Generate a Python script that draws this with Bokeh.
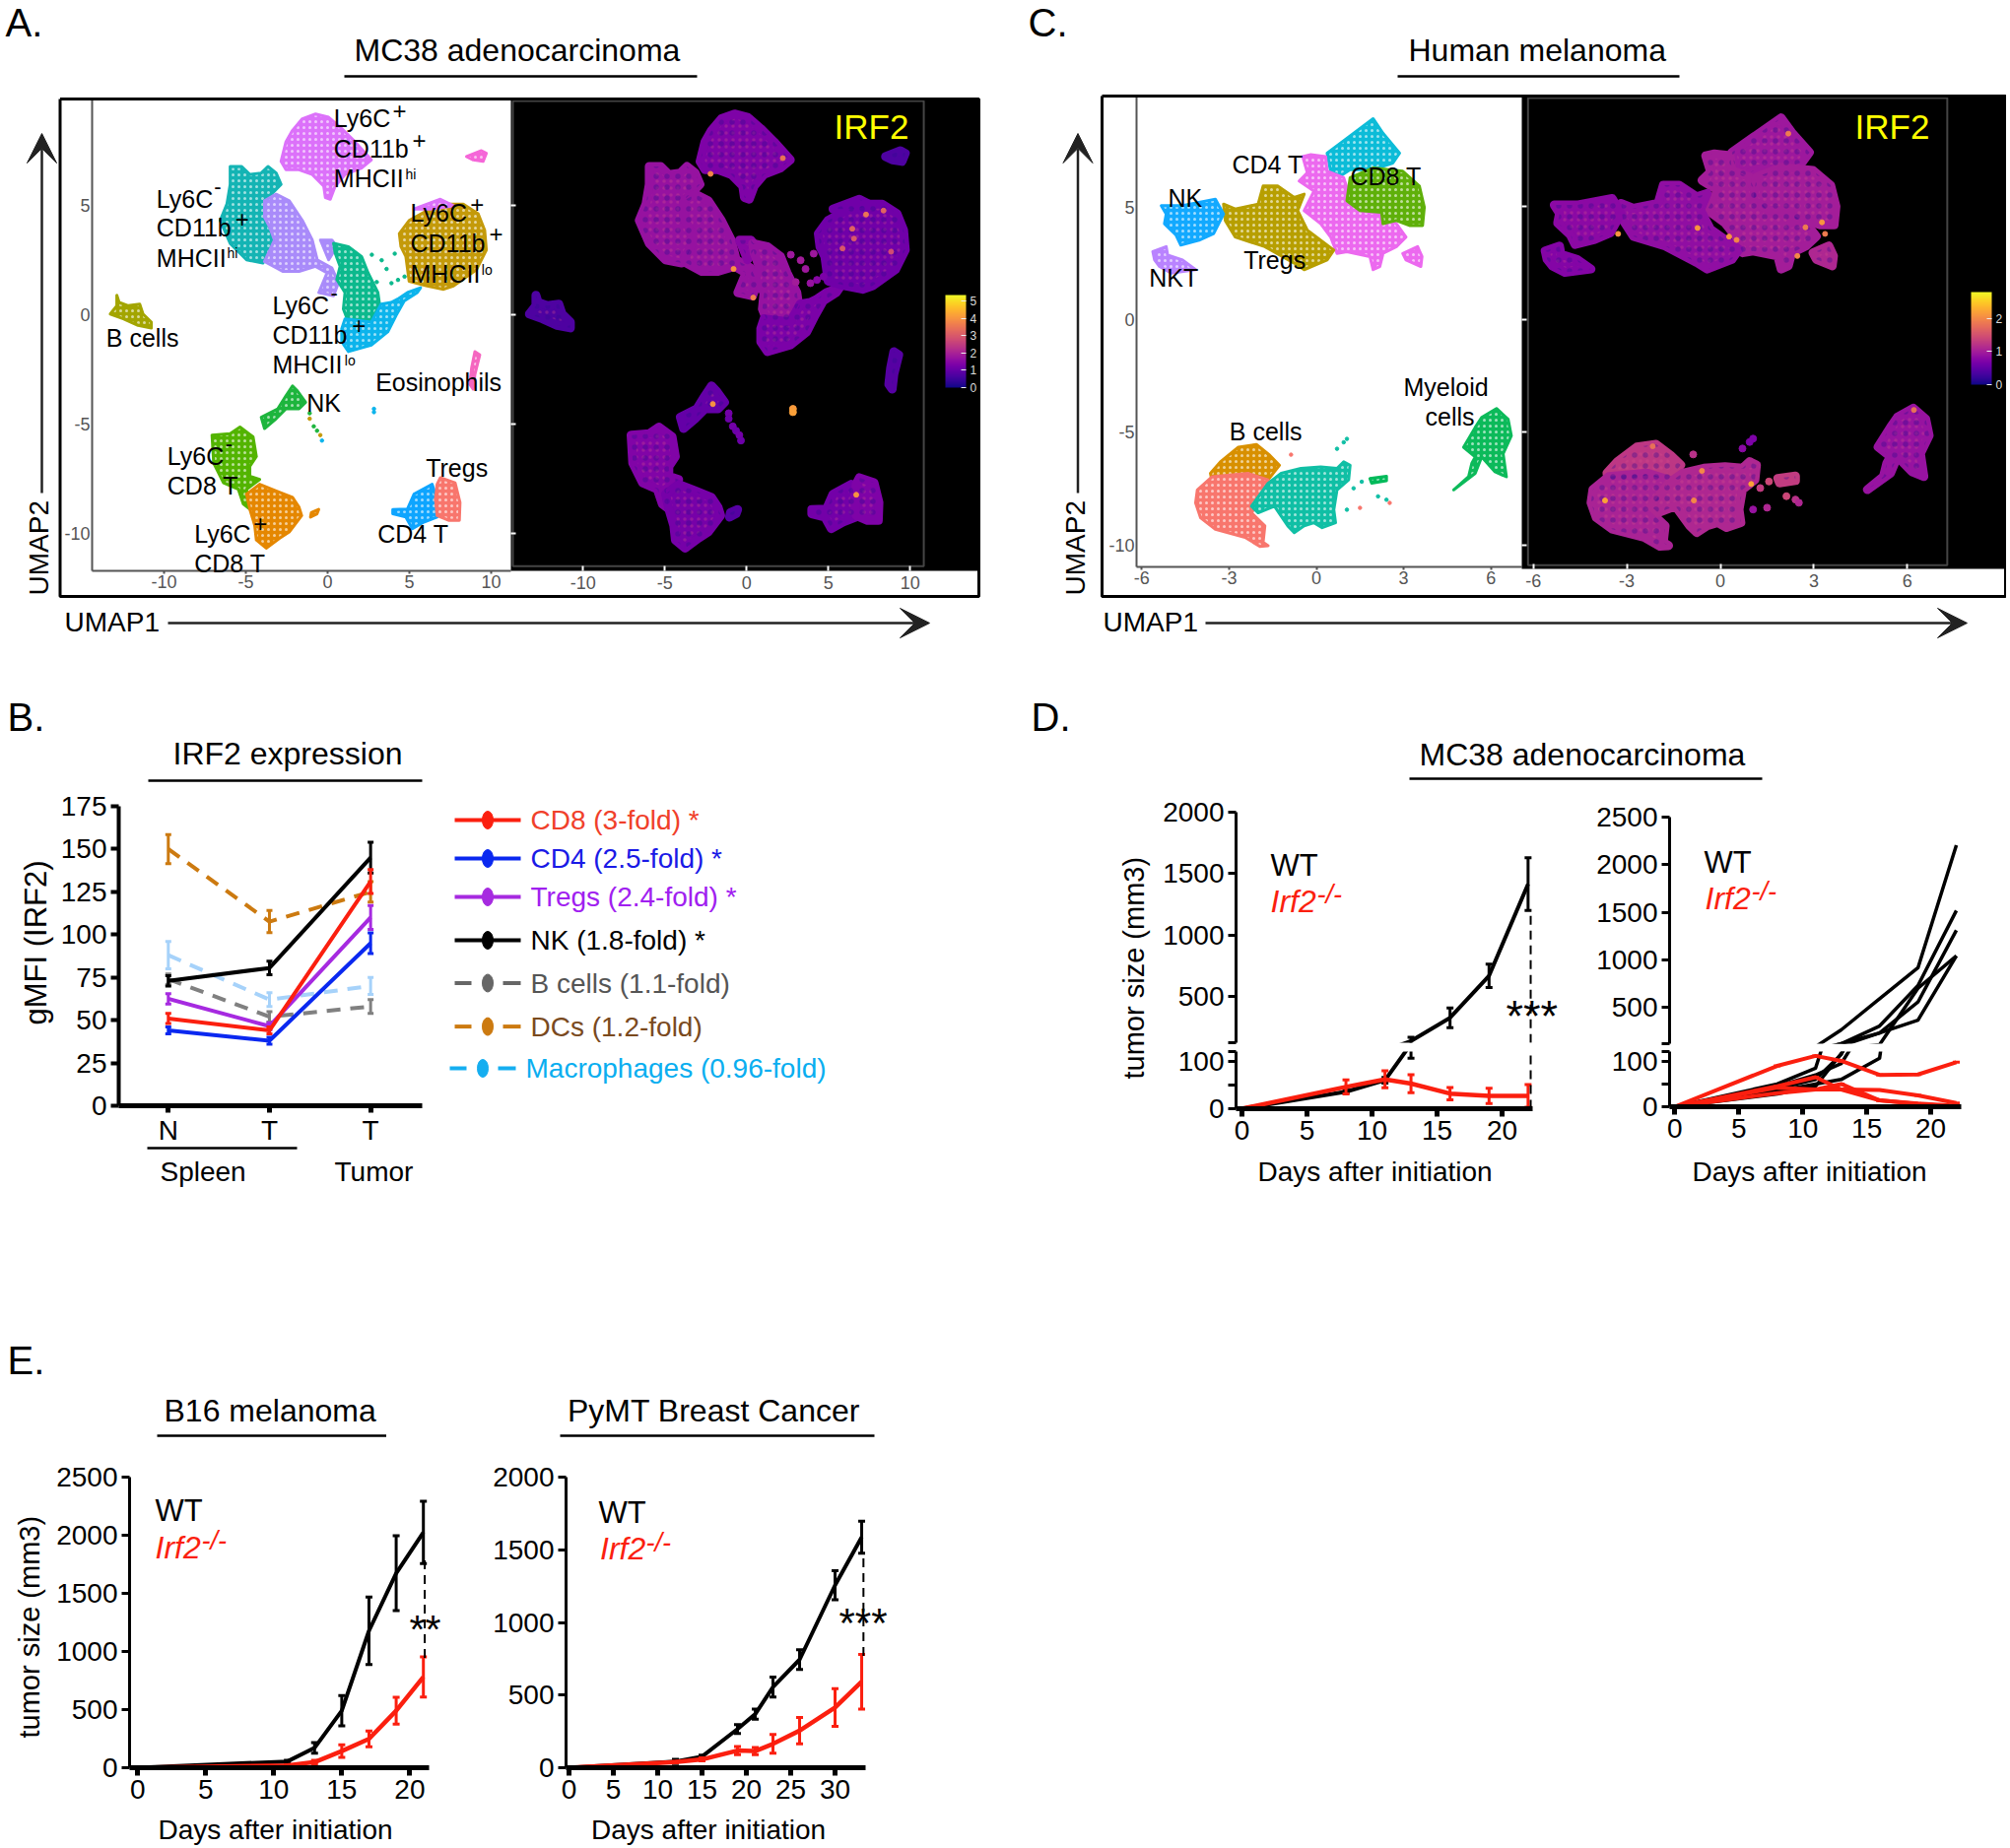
from math import pi
from bokeh.embed import file_html
from bokeh.resources import INLINE
from bokeh.layouts import column
from bokeh.plotting import figure
from bokeh.models import (Range1d, FixedTicker, Label, ColorBar, LinearColorMapper, BoxAnnotation,
                          ColumnDataSource, Arrow, VeeHead)
from bokeh.palettes import Plasma256
from bokeh.transform import linear_cmap

FONT = "Liberation Sans"

# ---------------- panel A clusters, UMAP units (outlines)
A_VIOLET_X = [-2.55,-2.15,-1.55,-0.74,0.06,0.86,1.67,2.67,2.07,1.06,0.46,0.16,-0.14,-0.24,-0.94,-1.75,-2.55,-2.85]
A_VIOLET_Y = [7.92,8.44,8.97,9.19,9.04,8.52,7.92,7.09,6.72,6.42,5.89,5.29,5.37,5.89,6.42,6.64,6.64,7.02]
A_TEAL_X = [-5.96,-5.26,-4.76,-4.06,-3.65,-3.15,-2.85,-3.25,-3.86,-3.86,-3.55,-3.25,-3.65,-3.96,-4.96,-5.96,-6.57,-6.16,-5.96]
A_TEAL_Y = [6.79,6.79,6.42,6.49,6.79,6.49,5.97,5.67,5.22,4.47,4.02,3.42,2.67,2.37,2.52,3.27,4.32,5.07,5.97]
A_LAV_X = [-3.86,-3.15,-2.35,-1.55,-0.94,-0.64,0.26,0.66,0.36,-0.54,-0.04,-0.74,-1.75,-2.75,-3.86,-3.25,-3.55,-3.86]
A_LAV_Y = [5.22,5.52,5.22,4.32,3.42,2.52,2.14,1.47,0.87,1.02,1.92,2.22,1.99,1.99,2.44,3.42,4.02,4.47]
A_LAV2_X = [-0.44,0.26,0.56,0.06]
A_LAV2_Y = [3.42,3.42,3.12,2.52]
A_GREEN_X = [0.36,1.27,2.07,2.47,3.07,3.17,2.67,1.27,0.96,1.06,0.56,0.76,0.46]
A_GREEN_Y = [3.27,3.12,2.67,1.92,1.02,0.49,-0.33,-0.33,0.27,1.02,1.62,2.22,2.82]
A_SKY_X = [1.06,2.67,3.27,3.88,4.28,4.88,5.68,5.48,4.68,4.18,3.67,2.67,1.27,0.86,0.86]
A_SKY_Y = [-0.18,-0.33,0.49,0.57,0.72,1.02,1.24,1.02,0.64,-0.03,-0.78,-1.38,-1.68,-1.23,-0.63]
A_GOLD_X = [4.38,4.98,5.88,7.09,8.29,9.2,9.6,9.7,9.1,7.69,7.09,6.08,4.98,4.78,4.48]
A_GOLD_Y = [3.72,4.32,4.69,5.07,5.07,4.62,3.87,2.97,2.07,1.32,1.17,1.32,1.54,2.67,3.12]
A_VTOP_X = [5.28,6.89,7.69,6.29]
A_VTOP_Y = [4.84,5.29,4.99,4.84]
A_PINK_X = [8.49,9.4,9.7,9.5,8.9]
A_PINK_Y = [7.24,7.51,7.39,7.02,7.09]
A_BCELL_X = [-12.89,-12.75,-12.19,-11.49,-11.29,-10.78,-10.78,-11.59,-12.49,-13.29,-12.89]
A_BCELL_Y = [0.9,0.57,0.42,0.49,0.04,-0.33,-0.6,-0.48,-0.18,0.04,0.42]
A_EOS_X = [9.0,9.3,9.0,8.9,8.69,8.8]
A_EOS_Y = [-1.68,-1.83,-2.73,-3.4,-3.18,-2.43]
A_NK_X = [-2.15,-1.85,-1.35,-1.75,-2.55,-3.15,-3.86,-4.06,-3.05,-2.55]
A_NK_Y = [-3.25,-3.48,-4.0,-4.3,-4.3,-4.75,-5.2,-4.68,-4.3,-3.7]
A_CD8N_X = [-7.07,-5.96,-5.36,-4.56,-4.36,-4.76,-4.76,-4.16,-4.96,-4.76,-5.16,-5.46,-6.37,-6.97]
A_CD8N_Y = [-5.5,-5.43,-5.13,-5.58,-6.48,-6.93,-7.38,-7.53,-7.98,-8.88,-8.65,-7.98,-7.68,-6.78]
A_CD8P_X = [-4.96,-4.16,-3.15,-2.15,-1.75,-1.59,-2.35,-2.95,-3.76,-4.36,-4.46,-4.76]
A_CD8P_Y = [-8.2,-7.75,-8.05,-8.35,-8.8,-9.18,-9.93,-10.22,-10.67,-10.3,-9.63,-8.88]
A_CD4_X = [3.98,4.88,5.28,6.39,6.69,6.69,5.88,5.18,4.78,3.98]
A_CD4_Y = [-8.91,-8.88,-8.2,-7.75,-8.43,-9.25,-9.48,-9.78,-9.25,-9.1]
A_TREG_X = [6.69,6.89,7.79,8.09,8.05,7.39,6.69,6.59]
A_TREG_Y = [-7.75,-7.45,-7.68,-8.58,-9.4,-9.4,-9.18,-8.43]
A_ORSM_X = [-1.0,-0.55,-0.65,-1.05]
A_ORSM_Y = [-9.05,-8.9,-9.1,-9.25]

A_OUTLINES = [(A_VIOLET_X,A_VIOLET_Y,"#dc71fa",1.35),(A_TEAL_X,A_TEAL_Y,"#14b4b4",1.7),(A_LAV_X,A_LAV_Y,"#a98bfa",1.7),
              (A_LAV2_X,A_LAV2_Y,"#a98bfa",1.5),(A_GREEN_X,A_GREEN_Y,"#0cb98d",1.7),(A_SKY_X,A_SKY_Y,"#0cb4ec",1.3),
              (A_GOLD_X,A_GOLD_Y,"#c49a0a",1.15),(A_VTOP_X,A_VTOP_Y,"#dc71fa",1.15),(A_PINK_X,A_PINK_Y,"#f566d8",0.7),
              (A_BCELL_X,A_BCELL_Y,"#a3a500",0.7),(A_EOS_X,A_EOS_Y,"#f566c0",0.8),(A_NK_X,A_NK_Y,"#1db53d",1.0),
              (A_CD8N_X,A_CD8N_Y,"#53b400",1.4),(A_CD8P_X,A_CD8P_Y,"#e58700",1.25),(A_CD4_X,A_CD4_Y,"#0ea5ff",1.2),
              (A_TREG_X,A_TREG_Y,"#f8766d",1.35),(A_ORSM_X,A_ORSM_Y,"#e58700",0.8)]
A_DOT_X = [2.7,3.3,3.6,3.9,4.3,4.7,4.1,3.0,-1.1,-1.1,-0.85,-0.65,-0.45,-0.35,2.83,2.83]
A_DOT_Y = [2.75,2.5,2.1,1.45,1.6,1.75,2.8,1.5,-4.5,-4.75,-5.1,-5.3,-5.5,-5.75,-4.3,-4.45]
A_DOT_C = ["#0cb98d"]*8+["#1db53d","#c49a0a","#1db53d","#1db53d","#c49a0a","#0cb4ec","#0cb4ec","#0cb4ec"]
A_DOT_V = [1.8,1.9,1.8,1.7,1.5,1.3,1.8,1.9,1.2,1.1,1.2,1.1,1.2,1.1,4.1,4.2]
A_HOT_X = [-2.21,2.21,-0.8,0.4,7.3,8.37,6.46,6.56,5.86,8.83,6.7,-2.07]
A_HOT_Y = [6.45,7.17,2.1,0.79,4.59,4.77,3.94,3.49,3.04,2.89,-8.23,-4.08]
A_HOT_V = [3.8,3.5,4.0,3.7,3.5,3.2,3.2,3.0,3.0,2.8,4.0,4.0]

# ---------------- panel C clusters
C_CYAN_X = [0.37,1.05,1.95,2.29,2.86,2.63,1.95,1.16,0.82,0.49]
C_CYAN_Y = [7.39,8.05,8.92,8.27,7.39,6.95,6.66,6.66,6.37,6.59]
C_GREEN_X = [1.16,1.95,2.97,3.54,3.71,3.65,3.2,2.75,2.29,2.24,1.5,1.05]
C_GREEN_Y = [6.3,6.73,6.59,5.93,4.99,4.18,4.18,4.4,4.26,4.77,4.84,5.28]
C_PINK_X = [-0.47,-0.19,0.32,0.37,0.94,1.16,1.5,2.24,2.75,3.08,2.75,2.29,2.18,1.95,1.84,1.05,0.71,0.49,0.15,-0.42,-0.08,-0.59,-0.31]
C_PINK_Y = [7.24,7.32,7.24,6.59,6.3,5.42,4.84,4.69,4.26,3.67,3.24,2.94,2.36,2.22,2.8,3.02,2.94,3.67,4.26,4.84,5.71,6.15,6.52]
C_PINK2_X = [2.97,3.48,3.63,3.59,3.08]
C_PINK2_Y = [2.94,3.24,2.8,2.36,2.65]
C_TREG_X = [-3.19,-2.79,-2.0,-1.83,-1.32,-0.76,-0.42,-0.64,-0.31,0.6,0.37,-0.42,-0.76,-1.77,-2.79,-3.13]
C_TREG_Y = [5.13,4.91,5.13,5.93,5.93,5.42,5.57,4.84,3.97,3.09,2.65,2.22,2.51,3.24,3.67,4.4]
C_NK_X = [-5.33,-4.6,-3.47,-3.19,-3.53,-4.03,-4.66,-4.82,-5.22,-5.16]
C_NK_Y = [5.06,5.06,5.35,4.69,3.82,3.53,3.31,3.75,4.26,4.69]
C_NKT_X = [-5.62,-5.16,-5.11,-4.6,-4.15,-4.99,-5.39,-5.56]
C_NKT_Y = [3.02,3.24,2.87,2.65,2.22,2.07,2.36,2.65]
C_BGOLD_X = [-3.64,-3.3,-2.68,-2.06,-1.6,-1.27,-1.66,-2.34,-3.02,-3.58]
C_BGOLD_Y = [-6.82,-6.31,-5.66,-5.54,-6.02,-6.46,-7.11,-6.9,-7.11,-7.19]
C_BSAL_X = [-4.09,-3.58,-2.34,-1.66,-1.94,-2.23,-1.77,-1.83,-1.66,-1.94,-2.45,-3.47,-3.98,-4.15]
C_BSAL_Y = [-7.55,-6.97,-6.82,-7.11,-7.99,-8.57,-9.15,-9.88,-10.03,-10.06,-9.66,-9.3,-8.79,-8.13]
C_TEAL_X = [-1.66,-1.21,-0.53,0.15,0.71,0.94,1.16,1.11,0.71,0.6,0.66,0.2,-0.08,-0.42,-0.76,-0.98,-1.44,-2.0,-2.23]
C_TEAL_Y = [-7.26,-6.82,-6.6,-6.53,-6.6,-6.31,-6.46,-7.11,-7.55,-8.43,-9.01,-9.23,-9.01,-9.15,-9.45,-9.15,-8.28,-8.57,-8.28]
C_GSM_X = [1.84,2.41,2.41,1.9]
C_GSM_Y = [-7.05,-6.95,-7.15,-7.25]
C_MYE_X = [6.19,6.59,6.7,6.42,6.53,6.14,5.68,5.46,4.72,5.23,5.34,5.46,5.06,5.46,5.68]
C_MYE_Y = [-3.94,-4.42,-5.15,-5.95,-6.97,-6.75,-6.09,-6.82,-7.55,-6.97,-6.38,-6.09,-5.66,-4.78,-4.34]
C_OUTLINES = [(C_CYAN_X,C_CYAN_Y,"#0cbcd8",0.95),(C_PINK_X,C_PINK_Y,"#ec69ef",1.0),(C_PINK2_X,C_PINK2_Y,"#ec69ef",1.1),
              (C_GREEN_X,C_GREEN_Y,"#5fb00a",1.0),(C_TREG_X,C_TREG_Y,"#b79f00",0.85),(C_NK_X,C_NK_Y,"#12a9ff",0.8),
              (C_NKT_X,C_NKT_Y,"#b983ff",0.75),(C_BGOLD_X,C_BGOLD_Y,"#d89000",1.25),(C_BSAL_X,C_BSAL_Y,"#f8766d",1.05),
              (C_TEAL_X,C_TEAL_Y,"#10bfa5",1.1),(C_GSM_X,C_GSM_Y,"#00ba5a",1.3),(C_MYE_X,C_MYE_Y,"#0cba5a",0.9)]
C_DOT_X = [1.05,0.94,0.71,1.28,1.56,2.12,2.41,1.05,-0.87,1.5,2.52]
C_DOT_Y = [-5.29,-5.44,-5.73,-7.48,-7.19,-7.84,-7.99,-8.43,-5.99,-8.35,-8.13]
C_DOT_C = ["#10bfa5"]*8+["#f8766d"]*3
C_DOT_V = [0.7,0.7,0.8,1.3,1.4,1.4,1.2,0.9,1.2,1.1,1.1]
C_HOT_X = [-3.28,-0.73,0.28,0.52,3.26,2.73,2.47,3.36,2.18,-3.7,-0.59,0.99,-0.85,-2.17,6.21]
C_HOT_Y = [3.78,4.04,3.66,3.51,4.29,4.07,2.8,3.78,8.22,-8.03,-6.72,-7.3,-8.03,-5.63,-4.02]
C_HOT_V = [2.1,2.1,2.1,2.0,2.1,1.9,2.0,1.9,1.9,2.2,2.0,2.2,2.0,1.8,1.8]

# ---------------- panel B
B_POS = [0, 1, 2]
B_TICKS = ["N", "T", "T"]
CD8_MEAN, CD8_ERR = [51, 44, 131], [3, 2, 7]
CD4_MEAN, CD4_ERR = [44, 38, 95], [2, 2, 6]
TREG_MEAN, TREG_ERR = [62.5, 46.5, 110], [3, 2, 7]
NK_MEAN, NK_ERR = [73, 80.5, 145], [3, 4, 9]
BC_MEAN, BC_ERR = [74, 52, 58], [3, 3, 4]
DC_MEAN, DC_ERR = [150, 107.6, 125], [8.5, 6.5, 6]
MAC_MEAN, MAC_ERR = [88, 62, 70], [8, 4, 5]

# ---------------- panel D
D_DAYS = [0, 8, 11, 13, 16, 19, 22]
D_WT = [0, 36, 60, 137, 326, 668, 1415]
D_WT_ERR = [0, 3, 6, 30, 80, 95, 215]
D_KO = [0, 46, 62, 53, 32, 27, 27]
D_KO_ERR = [0, 15, 18, 19, 13, 16, 24]
M1 = [0, 50, 85, 262, 590, 915, 2205]
M2 = [0, 40, 60, 115, 303, 728, 1517]
M3 = [0, 45, 70, 95, 230, 555, 1310]
M4 = [0, 35, 50, 60, 107, 700, 1040]
M5 = [0, 28, 45, 117, 230, 365, 1040]
R1 = [0, 90, 112, 101, 70, 71, 98]
R2 = [0, 45, 65, 38, 14, 7, 2]
R3 = [0, 42, 38, 38, 37, 25, 8]
R4 = [0, 30, 38, 50, 14, 6, 0]

# ---------------- panel E
E1_WT_DAYS = [0, 11, 13, 15, 17, 19, 21]
E1_WT = [0, 54, 171, 490, 1178, 1673, 2024]
E1_WT_ERR = [0, 10, 45, 130, 290, 322, 268]
E1_KO_DAYS = [0, 11, 13, 15, 17, 19, 21]
E1_KO = [0, 20, 48, 143, 248, 490, 781]
E1_KO_ERR = [0, 5, 15, 55, 68, 115, 172]
E2_WT_DAYS = [0, 12, 15, 19, 21, 23, 26, 30, 33]
E2_WT = [0, 43, 77, 266, 369, 555, 744, 1256, 1586]
E2_WT_ERR = [0, 15, 10, 30, 35, 68, 68, 100, 110]
E2_KO_DAYS = [0, 12, 15, 19, 21, 23, 26, 30, 33]
E2_KO = [0, 39, 57, 118, 114, 164, 255, 414, 592]
E2_KO_ERR = [0, 5, 10, 28, 25, 64, 90, 130, 188]

LEGEND_TEXT = ["CD8 (3-fold) *", "CD4 (2.5-fold) *", "Tregs  (2.4-fold) *", "NK (1.8-fold) *",
               "B cells (1.1-fold)", "DCs (1.2-fold)", "Macrophages (0.96-fold)"]

figs = []

def make(L, T, R, B, xr, yr, left=100, bottom=50, top=5, right=5):
    p = figure(frame_width=round(R-L), frame_height=round(B-T), x_range=Range1d(*xr), y_range=Range1d(*yr),
               min_border_left=left, min_border_right=right, min_border_top=top, min_border_bottom=bottom,
               toolbar_location=None, output_backend="svg", background_fill_color=None, border_fill_color=None,
               outline_line_color=None)
    p.grid.visible = False
    p.styles = {"position": "absolute", "left": f"{round(L)-left}px", "top": f"{round(T)-top}px"}
    figs.append(p)
    return p

def style_axis(ax, ticks, size="28px", color="black", lw=3, tick=8, overrides=None, standoff=4):
    ax.ticker = FixedTicker(ticks=ticks)
    ax.axis_line_width = lw
    ax.axis_line_color = color
    ax.major_tick_line_width = lw
    ax.major_tick_line_color = color
    ax.major_tick_in = 0
    ax.major_tick_out = tick
    ax.minor_tick_line_color = None
    ax.major_label_text_font = FONT
    ax.major_label_text_font_size = size
    ax.major_label_text_color = "black"
    ax.major_label_standoff = standoff
    if overrides:
        ax.major_label_overrides = overrides

def plain(ticks):
    return {t: str(t) for t in ticks}

def umap(L, T, R, B, xr, yr, xt, yt, outlines, dx, dy, dc):
    p = make(L, T, R, B, xr, yr, bottom=40)
    p.background_fill_color = "white"
    style_axis(p.xaxis[0], xt, "18px", "#555555", 2, 3, standoff=1, overrides=plain(xt))
    style_axis(p.yaxis[0], yt, "18px", "#555555", 2, 0, standoff=2, overrides=plain(yt))
    p.xaxis.major_label_text_color = "#555555"
    p.yaxis.major_label_text_color = "#555555"
    cols = [o[2] for o in outlines]
    p.patches([o[0] for o in outlines], [o[1] for o in outlines], fill_color=cols, line_color=cols, line_width=3, line_join="round",
              hatch_pattern="dot", hatch_color="white", hatch_scale=6, hatch_weight=1, hatch_alpha=0.6)
    p.scatter(dx, dy, size=3.5, color=dc)
    return p

def feature(L, T, R, B, xr, yr, xt, yt, outlines, dx, dy, dv, hx, hy, hv, high, cbx, cbh, box, cticks):
    p = make(L, T, R, B, xr, yr, bottom=40)
    p.background_fill_color = "black"
    style_axis(p.xaxis[0], xt, "18px", "white", 2, 0, standoff=5, overrides=plain(xt))
    p.xaxis.major_tick_in = 5
    p.xaxis.major_label_text_color = "#555555"
    p.xaxis.axis_line_color = None
    style_axis(p.yaxis[0], yt, "18px", "white", 2, 0, standoff=0, overrides={t: "" for t in yt})
    p.yaxis.major_tick_in = 5
    p.yaxis.axis_line_color = None
    cmap = linear_cmap("v", Plasma256, 0, high)
    src = ColumnDataSource(dict(xs=[o[0] for o in outlines], ys=[o[1] for o in outlines], v=[o[3] for o in outlines]))
    p.patches("xs", "ys", source=src, fill_color=cmap, line_color=cmap, line_width=9, line_join="round",
              hatch_pattern="dot", hatch_color="#d8508a", hatch_scale=7, hatch_weight=2, hatch_alpha=0.3)
    p.patches("xs", "ys", source=src, fill_alpha=0, line_alpha=0,
              hatch_pattern="dot", hatch_color="#300a90", hatch_scale=11, hatch_weight=3, hatch_alpha=0.35)
    p.scatter("x", "y", source=ColumnDataSource(dict(x=dx, y=dy, v=dv)), size=7, color=cmap)
    p.scatter("x", "y", source=ColumnDataSource(dict(x=hx, y=hy, v=hv)), size=5, color=cmap)
    p.add_layout(BoxAnnotation(left=box[0], right=box[1], top=box[2], bottom=box[3], fill_color=None,
                               line_color="#e6e6e6", line_width=2))
    cb = ColorBar(color_mapper=LinearColorMapper(palette=Plasma256, low=0, high=high), location=cbx, width=21, height=cbh,
                  padding=0, margin=0, ticker=FixedTicker(ticks=cticks), background_fill_color=None, border_line_color=None,
                  major_label_text_color="#dddddd", major_label_text_font=FONT, major_label_text_font_size="12px",
                  major_tick_line_color="#eeeeee", major_tick_in=5, major_tick_out=0, bar_line_color=None, label_standoff=4)
    p.add_layout(cb)
    return p

def series(p, x, y, e, color, width=4, dash="solid", cap=8, capw=3, ew=3):
    p.line(x, y, line_color=color, line_width=width, line_dash=dash, line_join="round")
    nz = [(a, b, c) for a, b, c in zip(x, y, e) if c > 0]
    xs = [n[0] for n in nz]
    lo = [n[1]-n[2] for n in nz]
    hi = [n[1]+n[2] for n in nz]
    p.segment(xs, lo, xs, hi, line_color=color, line_width=ew)
    p.scatter(xs+xs, lo+hi, marker="dash", size=cap, line_color=color, line_width=capw)

# ---------- A
A_XT = [-10, -5, 0, 5, 10]
A_YT = [-10, -5, 0, 5]
umap(93, 101, 518, 579, (-14.4, 11.2), (-11.71, 9.83), A_XT, A_YT, A_OUTLINES, A_DOT_X, A_DOT_Y, A_DOT_C)
feature(518, 101, 993, 579, (-14.42, 14.2), (-11.71, 9.83), A_XT, A_YT, A_OUTLINES, A_DOT_X, A_DOT_Y, A_DOT_V,
        A_HOT_X, A_HOT_Y, A_HOT_V, 5.35, (441, 186), 94, (-14.3, 10.83, 9.78, -11.5), [0, 1, 2, 3, 4, 5])
# ---------- C
C_XT = [-6, -3, 0, 3, 6]
C_YT = [-10, -5, 0, 5]
umap(1153, 98, 1544, 575, (-6.18, 7.06), (-10.97, 9.88), C_XT, C_YT, C_OUTLINES, C_DOT_X, C_DOT_Y, C_DOT_C)
feature(1544, 98, 2035, 577, (-6.37, 9.15), (-11.06, 9.84), C_XT, C_YT, C_OUTLINES, C_DOT_X, C_DOT_Y, C_DOT_V,
        C_HOT_X, C_HOT_Y, C_HOT_V, 2.8, (456, 187), 94, (-6.17, 7.28, 9.8, -10.9), [0, 1, 2])

# ---------- B
pb = make(120, 818, 428, 1122, (-0.49, 2.51), (0, 175), bottom=60, top=10)
style_axis(pb.yaxis[0], [0, 25, 50, 75, 100, 125, 150, 175], lw=4)
style_axis(pb.xaxis[0], B_POS, lw=5, tick=7, standoff=2, overrides={i: t for i, t in zip(B_POS, B_TICKS)})
series(pb, B_POS, DC_MEAN, DC_ERR, "#cc7a10", 4, "14 10", 6)
series(pb, B_POS, MAC_MEAN, MAC_ERR, "#a6d2fa", 4, "14 10", 6)
series(pb, B_POS, BC_MEAN, BC_ERR, "#808080", 4, "14 10", 6)
series(pb, B_POS, NK_MEAN, NK_ERR, "black", 4, "solid", 6)
series(pb, B_POS, TREG_MEAN, TREG_ERR, "#a62ae0", 4, "solid", 6)
series(pb, B_POS, CD8_MEAN, CD8_ERR, "#fb1f0f", 4, "solid", 6)
series(pb, B_POS, CD4_MEAN, CD4_ERR, "#0a28f0", 4, "solid", 6)

# ---------- D
def broken(L, R, xr, ub, ut, uy, lb, lt, ly, xt, uticks, lticks, draw):
    up = make(L, ut, R, ub, xr, uy, bottom=8, top=10)
    lo = make(L, lt, R, lb, xr, ly, bottom=60, top=5)
    up.xaxis.visible = False
    style_axis(up.yaxis[0], uticks, lw=3, overrides={uticks[0]: ""})
    style_axis(lo.yaxis[0], lticks, lw=3, overrides={lticks[1]: "", lticks[3]: ""})
    style_axis(lo.xaxis[0], xt, lw=5)
    draw(up, True)
    draw(lo, False)

def d1(p, upper):
    series(p, D_DAYS, D_WT, D_WT_ERR, "black", 4, "solid", 7, 3, 3)
    if not upper:
        series(p, D_DAYS, D_KO, D_KO_ERR, "#fb1f0f", 4.5, "solid", 7, 3, 3)
    p.line([22.2, 22.2], [0, 1190], line_color="black", line_width=2, line_dash="9 6")

def d2(p, upper):
    for m in (M1, M2, M3, M4, M5):
        p.line(D_DAYS, m, line_color="black", line_width=3.5, line_join="round")
    if not upper:
        for r in (R1, R2, R3, R4):
            p.line(D_DAYS, r, line_color="#fb1f0f", line_width=4, line_join="round")
            p.scatter(D_DAYS, r, marker="dash", size=7, line_color="#fb1f0f", line_width=3)

D_XT = [0, 5, 10, 15, 20]
broken(1254, 1555, (-0.45, 22.35), 1058, 824, (123, 2000), 1125, 1067, (0, 120.8), D_XT, [123, 500, 1000, 1500, 2000], [0, 50, 100, 120.8], d1)
broken(1694, 1990, (-0.41, 22.38), 1059, 829, (117, 2500), 1123.5, 1067, (0, 121.5), D_XT, [117, 500, 1000, 1500, 2000, 2500], [0, 50, 100, 121.5], d2)

# ---------- E
pe1 = make(131, 1499, 435, 1794, (-0.6, 21.42), (0, 2500), bottom=50, top=10)
style_axis(pe1.yaxis[0], [0, 500, 1000, 1500, 2000, 2500], lw=3)
style_axis(pe1.xaxis[0], D_XT, lw=5)
series(pe1, E1_WT_DAYS, E1_WT, E1_WT_ERR, "black", 4, "solid", 7)
series(pe1, E1_KO_DAYS, E1_KO, E1_KO_ERR, "#fb1f0f", 4.5, "solid", 7)
pe1.line([21.1, 21.1], [945, 1810], line_color="black", line_width=2, line_dash="9 6")

pe2 = make(574, 1499, 878, 1794, (-0.33, 33.44), (0, 2000), bottom=50, top=10)
style_axis(pe2.yaxis[0], [0, 500, 1000, 1500, 2000], lw=3)
style_axis(pe2.xaxis[0], [0, 5, 10, 15, 20, 25, 30], lw=5)
series(pe2, E2_WT_DAYS, E2_WT, E2_WT_ERR, "black", 4, "solid", 7)
series(pe2, E2_KO_DAYS, E2_KO, E2_KO_ERR, "#fb1f0f", 4.5, "solid", 7)
pe2.line([33.2, 33.2], [770, 1470], line_color="black", line_width=2, line_dash="9 6")

# ---------- overlays for texts, frames and rules, in page pixels
def overlay(x0, x1, y0, y1):
    v = figure(frame_width=x1-x0, frame_height=y1-y0, x_range=Range1d(x0, x1), y_range=Range1d(y1, y0), x_axis_type=None,
               y_axis_type=None, min_border_left=100, min_border_right=0, min_border_top=20, min_border_bottom=0,
               toolbar_location=None, output_backend="svg", background_fill_color=None, border_fill_color=None,
               outline_line_color=None)
    v.grid.visible = False
    v.styles = {"position": "absolute", "left": f"{x0-100}px", "top": f"{y0-20}px"}
    figs.append(v)
    return v

ovl = overlay(0, 1030, 0, 1480)
ovr = overlay(1030, 2036, 0, 1480)
ovb = overlay(0, 1030, 1480, 1876)

def T(t, x, y, size=25, color="black", angle=0, style="normal"):
    if angle:
        x = x-12
    else:
        y = y-0.35*size
    v = ovr if x >= 1030 else (ovb if y >= 1480 else ovl)
    v.add_layout(Label(x=x, y=y, text=t, text_font=FONT, text_font_size=f"{size}px", text_color=color,
                       angle=angle, angle_units="rad", text_font_style=style, text_baseline="alphabetic", text_align="left"))

for t, x, y in [("A.", 5, 36), ("C.", 1043, 36), ("B.", 7, 741.5), ("D.", 1046, 741.5), ("E.", 7, 1394.6)]:
    T(t, x, y, 40)
for t, x, y in [("MC38 adenocarcinoma", 359, 62), ("Human melanoma", 1429, 62), ("IRF2 expression", 175, 776),
                ("MC38 adenocarcinoma", 1440, 777), ("B16 melanoma", 166, 1443), ("PyMT Breast Cancer", 575.5, 1443)]:
    T(t, x, y, 32)
for ov_, rules in ((ovl, [(349, 707, 77), (150, 428, 792), (159, 391.5, 1457), (568, 887, 1457), (149, 301, 1165)]),
                   (ovr, [(1418, 1704, 77), (1430, 1788, 790)])):
    ov_.multi_line([[a, b] for a, b, _ in rules], [[c, c] for _, _, c in rules], line_color="black", line_width=2.5)
ovl.line([60.5, 993, 993, 60.5, 60.5], [100, 100, 605, 605, 100], line_color="black", line_width=3)
ovr.line([1118, 2035, 2035, 1118, 1118], [97, 97, 605, 605, 97], line_color="black", line_width=3)
for v, x0, y0, x1, y1 in [(ovl, 42, 500, 42, 135), (ovl, 170, 632, 943, 632), (ovr, 1093.5, 500, 1093.5, 135), (ovr, 1223, 632, 1996, 632)]:
    v.add_layout(Arrow(x_start=x0, y_start=y0, x_end=x1, y_end=y1, line_width=2.5, line_color="#222222",
                       end=VeeHead(size=30, fill_color="#222222", line_color="#222222")))
T("UMAP1", 65, 640.6, 28); T("UMAP1", 1119, 640.6, 28)
T("UMAP2", 50.7, 604, 28, angle=pi/2); T("UMAP2", 1103, 604, 28, angle=pi/2)
T("IRF2", 846, 140.7, 35, "#ffff00"); T("IRF2", 1882, 140.7, 35, "#ffff00")
for t, x, y, s in [("Ly6C", 338.3, 128.3, 25), ("+", 398, 120, 24), ("CD11b", 338.3, 159.3, 25), ("+", 418, 150.7, 24),
                   ("MHCII", 338.3, 189.3, 25), ("hi", 411, 181.7, 14),
                   ("Ly6C", 158.3, 210, 25), ("-", 216.7, 197, 22), ("CD11b", 158.3, 239.3, 25), ("+", 238.3, 230, 24),
                   ("MHCII", 158.3, 270, 25), ("hi", 230, 261.7, 14),
                   ("Ly6C", 416, 224, 25), ("+", 476.7, 215, 24), ("CD11b", 416, 255, 25), ("+", 496, 245, 24),
                   ("MHCII", 416, 286, 25), ("lo", 488.3, 278.3, 14),
                   ("Ly6C", 276, 318.3, 25), ("-", 335, 305, 22), ("CD11b", 276, 348.3, 25), ("+", 356.7, 338.3, 24),
                   ("MHCII", 276, 378.3, 25), ("lo", 349.3, 370, 14),
                   ("B cells", 107.3, 351.7, 25), ("Eosinophils", 380.7, 396, 25), ("NK", 310.7, 417.3, 25),
                   ("Ly6C", 169.3, 471.7, 25), ("-", 228.3, 458, 22), ("CD8 T", 169.3, 501.7, 25),
                   ("Ly6C", 196.7, 550, 25), ("+", 256.7, 539, 24), ("CD8 T", 196.7, 580, 25),
                   ("Tregs", 431.7, 483.3, 25), ("CD4 T", 382.7, 550, 25),
                   ("CD4 T", 1250, 175, 25), ("CD8 T", 1370, 187.3, 25), ("NK", 1185, 209.3, 25), ("Tregs", 1261.7, 272.3, 25),
                   ("NKT", 1165.7, 290.7, 25), ("B cells", 1247.3, 446.7, 25), ("Myeloid", 1424, 401, 25), ("cells", 1446, 431, 25)]:
    T(t, x, y, s)
T("gMFI (IRF2)", 48, 1040, 31, angle=pi/2)
T("Spleen", 162, 1198.5, 28); T("Tumor", 339, 1198.5, 28)
T("tumor size (mm3)", 1162, 1095, 29, angle=pi/2)
T("tumor size (mm3)", 41, 1764, 29, angle=pi/2)
for x in (1276, 1717):
    T("Days after initiation", x, 1198.5, 28)
for x in (160, 599.5):
    T("Days after initiation", x, 1867, 28)
for wx, wy, ix, iy, sx, sy in [(1289, 888.4, 1289, 925.5, 1336, 917), (1729, 885.7, 1730, 923, 1777, 914),
                               (157, 1544, 157, 1581.5, 204, 1573), (607, 1546, 608.5, 1583, 655, 1575)]:
    T("WT", wx, wy, 31)
    T("Irf2", ix, iy, 32, "#fb1f0f", style="italic")
    T("-/-", sx, sy, 27, "#fb1f0f", style="italic")
T("***", 1528, 1047, 45); T("**", 415, 1668, 41); T("***", 851, 1662, 42)

# legend of panel B: key line, key marker and coloured text per row
LEG_STYLE = [("#fb1f0f", "#f0402a", False, 832, 461), ("#0a28f0", "#1a1ae6", False, 871, 461), ("#a62ae0", "#a020f0", False, 910, 461),
             ("black", "black", False, 954, 461), ("#666666", "#555555", True, 997.5, 461), ("#cc7a10", "#7a4a1e", True, 1041.6, 461),
             ("#15aef0", "#0aaef0", True, 1084, 456)]
for txt, (col, tcol, dashed, cy, lx) in zip(LEGEND_TEXT, LEG_STYLE):
    if dashed:
        ovl.multi_line([[lx, lx+17], [lx+49, lx+67]], [[cy, cy], [cy, cy]], line_color=col, line_width=4)
    else:
        ovl.line([lx, lx+67], [cy, cy], line_color=col, line_width=4)
    ovl.ellipse([lx+33.5], [cy], width=11, height=18, color=col)
    T(txt, lx+77, cy+10, 28, tcol)

page = column(*figs, width=2024, height=1860, styles={"position": "relative"})
open("out.html", "w").write(file_html(page, INLINE))
